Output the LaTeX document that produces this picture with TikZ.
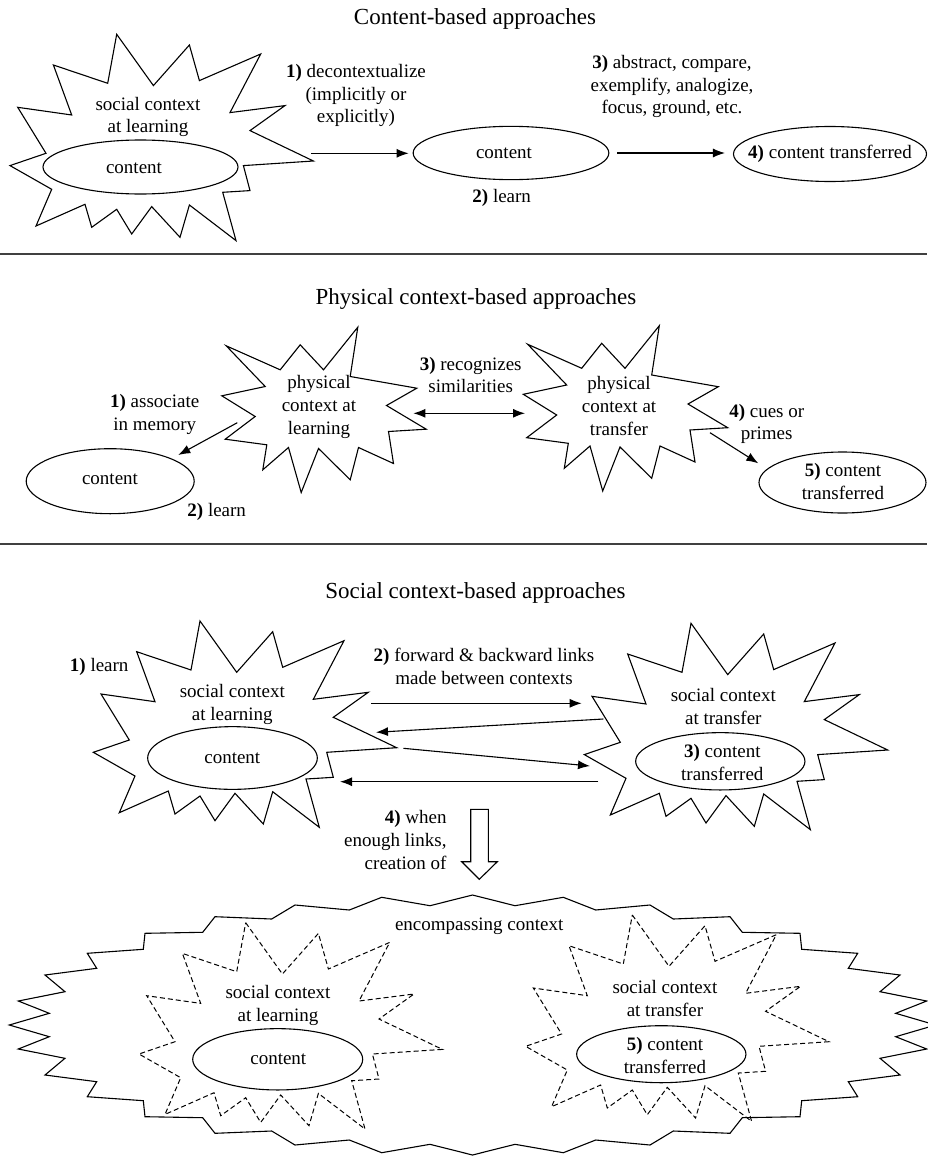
\documentclass[tikz,border=0pt]{standalone}
\usepackage{fontspec}
\setmainfont{Liberation Serif}
\usetikzlibrary{arrows.meta,shapes.geometric}
\newcommand\bodyfs{\fontsize{19}{22.7}\selectfont}
\newcommand\titlefs{\fontsize{23}{27}\selectfont}
\newcommand\socialburst{(200,621) -- (236.7,672.3) -- (272.7,631.7) -- (282.7,667.3) -- (344,640.7) -- (313.3,699.3) -- (368.3,692.3) -- (333.3,717.3) -- (396.7,747.7) -- (326.7,752.3) -- (333.3,777.3) -- (306,779) -- (319.3,827.3) -- (272.7,791.7) -- (263.3,824) -- (235,793.3) -- (215,820.7) -- (200,796) -- (175,814) -- (168.3,791) -- (119.3,812.7) -- (135,776) -- (93.3,752.3) -- (129.3,740) -- (101,694) -- (155,701.7) -- (136.7,651.7) -- (191,670) -- cycle}
\newcommand\physburst{(659.3,325.7) -- (651.7,375) -- (718.3,386.7) -- (688,404) -- (727.7,427.7) -- (690,430) -- (695,462) -- (660,446) -- (651.7,478.3) -- (620,447) -- (602.7,491) -- (590,446) -- (564.3,468.3) -- (568.3,443.3) -- (526.7,437.7) -- (556.7,415) -- (523.3,394.3) -- (566.7,385) -- (527.7,344.3) -- (581.7,368.3) -- (601.7,343.3) -- (625,368.3) -- cycle}
\begin{document}
\begin{tikzpicture}[x=1pt,y=-1pt,
  burst/.style={draw=black, line width=1.1pt, line join=miter},
  dburst/.style={draw=black, line width=1pt, dash pattern=on 5pt off 3pt},
  ell/.style={draw, ellipse, line width=1.1pt, inner sep=0pt},
  lbl/.style={align=center, font=\bodyfs, inner sep=0pt},
  ttl/.style={font=\titlefs, inner sep=0pt},
  arr/.style={line width=1.1pt, -{Latex[length=12pt,width=9pt]}},
  darr/.style={line width=1.1pt, {Latex[length=12pt,width=9pt]}-{Latex[length=12pt,width=9pt]}},
  sepline/.style={line width=2pt, draw=black!75}]
\useasboundingbox (0,0) rectangle (927,1156);

% ---------------- titles and separators
\node[ttl] (t1) at (475,19) {Content-based approaches};
\node[ttl] (t2) at (476,299) {Physical context-based approaches};
\node[ttl] (t3) at (475.5,593) {Social context-based approaches};
\coordinate (s1a) at (0,254); \coordinate (s1b) at (927,254);
\coordinate (s2a) at (0,544); \coordinate (s2b) at (927,544);
\draw[sepline] (s1a) -- (s1b);
\draw[sepline] (s2a) -- (s2b);

% ---------------- content-based
\draw[burst, shift={(-83.3,-586.7)}] \socialburst;
\node[lbl] (sc1) at (148,117) {social context\\at learning};
\node[ell, minimum width=195pt, minimum height=54pt] (e1) at (140.5,167) {};
\node[lbl] (e1t) at (134,168) {content};
\node[ell, minimum width=195.7pt, minimum height=53.3pt] (e2) at (511,153) {};
\node[lbl] (e2t) at (504,153.5) {content};
\node[ell, minimum width=193pt, minimum height=55pt] (e3) at (830,154) {};
\node[lbl] (e3t) at (830,153.5) {\textbf{4)} content transferred};
\coordinate (a1s) at (311,153.3);
\draw[arr, shorten >=4pt] (a1s) -- (a1s -| e2.west);
\draw[arr, shorten <=8pt, shorten >=8pt] (e2.east) -- (e2.east -| e3.west);
\node[lbl] (l1) at (356,95.7) {\textbf{1)} decontextualize\\(implicitly or\\explicitly)};
\node[lbl] (l2) at (501.7,198.3) {\textbf{2)} learn};
\node[lbl] (l3) at (672,86.7) {\textbf{3)} abstract, compare,\\exemplify, analogize,\\focus, ground, etc.};

% ---------------- physical
\draw[burst, shift={(-301.5,1.5)}] \physburst;
\draw[burst] \physburst;
\node[lbl] (pl) at (319,407) {physical\\context at\\learning};
\node[lbl] (pt) at (619,406) {physical\\context at\\transfer};
\coordinate (d1) at (413.3,413.3); \coordinate (d2) at (525,413.3);
\draw[darr] (d1) -- (d2);
\node[lbl] (l3p) at (470.7,375) {\textbf{3)} recognizes\\similarities};
\node[ell, minimum width=168pt, minimum height=65pt] (pc) at (110.2,481.2) {};
\node[lbl] (pct) at (110,479.3) {content};
\coordinate (p1s) at (237.3,422.7); \coordinate (p1e) at (178.3,455);
\draw[arr] (p1s) -- (p1e);
\node[lbl] (l1p) at (154.7,414.8) {\textbf{1)} associate\\in memory};
\node[lbl] (l2p) at (216.7,511.7) {\textbf{2)} learn};
\coordinate (p4s) at (710,432.7); \coordinate (p4e) at (758.3,463.3);
\draw[arr] (p4s) -- (p4e);
\node[lbl] (l4p) at (766.7,424) {\textbf{4)} cues or\\primes};
\node[ell, minimum width=167pt, minimum height=61pt] (pe) at (842.5,482.5) {};
\node[lbl] (pet) at (843,481.7) {\textbf{5)} content\\transferred};

% ---------------- social
\draw[burst] \socialburst;
\draw[burst, shift={(491,2.3)}] \socialburst;
\node[lbl] (l1s) at (99.2,667.3) {\textbf{1)} learn};
\node[lbl] (slt) at (232.3,704.5) {social context\\at learning};
\node[ell, minimum width=169.7pt, minimum height=62.7pt] (sle) at (232.5,758) {};
\node[lbl] (slet) at (232.3,758.3) {content};
\node[lbl] (stt) at (723.3,706.3) {social context\\at transfer};
\node[ell, minimum width=169.3pt, minimum height=57.3pt] (ste) at (720.3,761.3) {};
\node[lbl] (stet) at (722.3,762.2) {\textbf{3)} content\\transferred};
\node[lbl] (l2s) at (484,666.5) {\textbf{2)} forward \& backward links\\made between contexts};
\coordinate (qa1) at (371,703.3); \coordinate (qa2) at (581.7,703.3);
\coordinate (qb1) at (603.3,719); \coordinate (qb2) at (376,732.3);
\coordinate (qc1) at (403.3,748.3); \coordinate (qc2) at (590,766);
\coordinate (qd1) at (598.3,781.7); \coordinate (qd2) at (340,781.7);
\draw[arr] (qa1) -- (qa2);
\draw[arr] (qb1) -- (qb2);
\draw[arr] (qc1) -- (qc2);
\draw[arr] (qd1) -- (qd2);
\draw[line width=1.1pt, line join=miter] (470.7,809.3) -- (488.3,809.3) -- (488.3,861.7) -- (497.3,861.7) -- (479.3,879.3) -- (461.7,861.7) -- (470.7,861.7) -- cycle;
\node[lbl, align=right, anchor=east] (l4s) at (446.7,840) {\textbf{4)} when\\enough links,\\creation of};

% ---------------- encompassing
\draw[burst] (472.5,895) -- (515,905.7) -- (563.3,897.3) -- (595.7,910) -- (650,905) -- (673.3,919) -- (730,916.7) -- (742.3,932.3) -- (800,933.3) -- (801.7,949.3) -- (857.7,953.3) -- (848.3,968.3) -- (900,975) -- (880,991.7) -- (926.7,1001) -- (895.7,1013.3) -- (935.7,1025)
 -- (895.7,1036.7) -- (926.7,1049) -- (880,1058.3) -- (900,1075) -- (848.3,1081.7) -- (857.7,1096.7) -- (801.7,1100.7) -- (800,1116.7) -- (742.3,1117.7) -- (730,1133.3) -- (673.3,1131) -- (650,1145) -- (595.7,1140) -- (563.3,1152.7) -- (515,1144.3) -- (472.5,1155)
 -- (430,1144.3) -- (381.7,1152.7) -- (349.3,1140) -- (295,1145) -- (271.7,1131) -- (215,1133.3) -- (202.7,1117.7) -- (145,1116.7) -- (143.3,1100.7) -- (87.3,1096.7) -- (96.7,1081.7) -- (45,1075) -- (65,1058.3) -- (18.3,1049) -- (49.3,1036.7) -- (9.3,1025)
 -- (49.3,1013.3) -- (18.3,1001) -- (65,991.7) -- (45,975) -- (96.7,968.3) -- (87.3,953.3) -- (143.3,949.3) -- (145,933.3) -- (202.7,932.3) -- (215,916.7) -- (271.7,919) -- (295,905) -- (349.3,910) -- (381.7,897.3) -- (430,905.7) -- cycle;
\node[lbl] (enc) at (479.2,926.7) {encompassing context};
\draw[dburst, shift={(45.7,301.7)}] \socialburst;
\draw[dburst, shift={(432.3,294)}] \socialburst;
\node[lbl] (dlt) at (278,1005.7) {social context\\at learning};
\node[ell, minimum width=170pt, minimum height=61.3pt] (dle) at (277.7,1059.3) {};
\node[lbl] (dlet) at (278.3,1059.3) {content};
\node[lbl] (dtt) at (665,998.7) {social context\\at transfer};
\node[ell, minimum width=169.3pt, minimum height=57pt] (dte) at (661.3,1054.2) {};
\node[lbl] (dtet) at (665,1055.8) {\textbf{5)} content\\transferred};
\end{tikzpicture}
\end{document}
